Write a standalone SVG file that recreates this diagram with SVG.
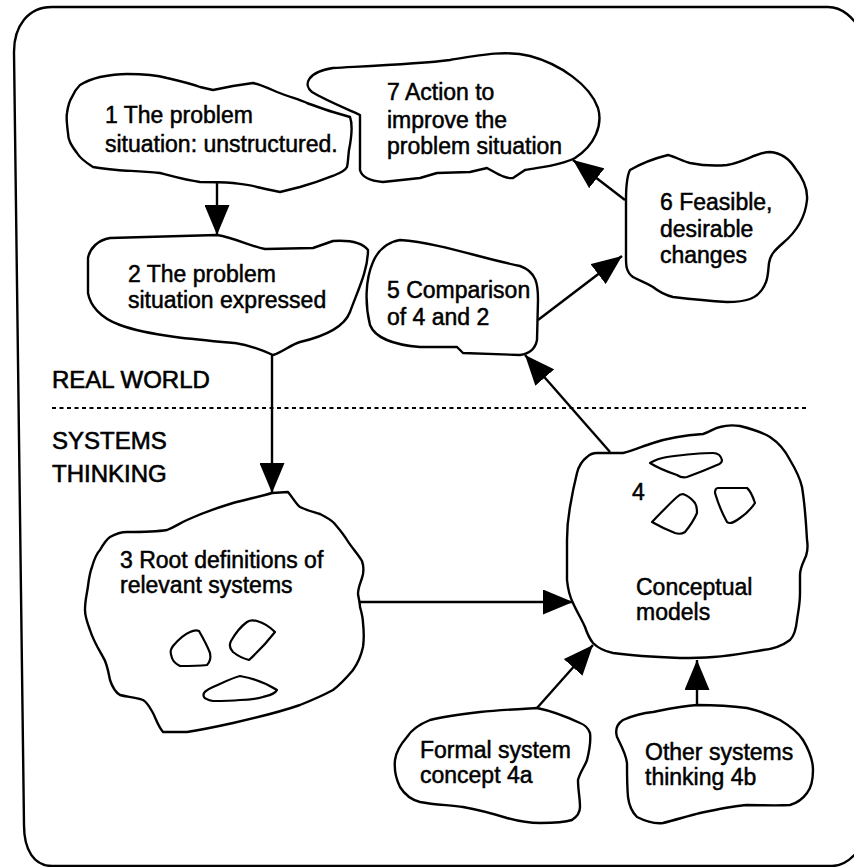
<svg xmlns="http://www.w3.org/2000/svg" width="854" height="867" viewBox="0 0 854 867">
<style>
.frame{fill:none;stroke:#000;stroke-width:2.4}
.blob{fill:#fff;stroke:#000;stroke-width:2.4;stroke-linejoin:round}
.inner{fill:none;stroke:#000;stroke-width:2.2;stroke-linejoin:round}
.t{font-family:"Liberation Sans",Arial,Helvetica,sans-serif;font-size:23px;fill:#000;stroke:#000;stroke-width:0.5}
.lbl{font-family:"Liberation Sans",Arial,Helvetica,sans-serif;font-size:24px;fill:#000;stroke:#000;stroke-width:0.6}
.conn{fill:none;stroke:#000;stroke-width:2.4}
.div{fill:none;stroke:#000;stroke-width:2.2;stroke-dasharray:4 3.5}
</style>
<defs>
<marker id="ah" markerUnits="userSpaceOnUse" markerWidth="30" markerHeight="25" viewBox="0 0 30 25" refX="30" refY="12.5" orient="auto">
<path d="M0,0 L30,12.5 L0,25 Z" fill="#000"/>
</marker>
</defs>
<rect width="854" height="867" fill="#fff"/>
<path class="frame" d="M14,52 C14,26 28,7 52,7 L828,7 C842,7 852,16 866,36 L868,836 C858,854 846,866 832,866 L52,866 C34,866 24,850 24,825 Z"/>

<g id="labels">
<text class="lbl" x="52" y="388">REAL WORLD</text>
<path class="div" d="M52,408 L808,408"/>
<text class="lbl" x="52" y="449">SYSTEMS</text>
<text class="lbl" x="52" y="482">THINKING</text>
</g>

<g id="node1">
<path class="blob" d="M80,85 C88,80 96,78 100,77 C110,75 118,74 127,74 C145,74 160,76 167,78 C180,81 192,84 200,87 L213,90 L233,86 L253,83 C262,85 270,89 277,92 C290,97 300,100 307,103 C318,107 326,110 333,112 L350,117 C353,125 351,140 349,150 C348,158 348,163 347,167 C345,171 340,173 335,175 C325,179 318,182 300,187 L280,192 C270,190 265,189 257,187 C250,185 240,184 233,183 C220,182 210,182 200,182 C185,180 172,176 160,173 C140,171 128,171 117,170 C105,169 98,168 93,167 C85,162 80,158 77,153 C71,145 68,140 68,133 C67,125 66,118 67,113 C68,106 70,100 72,97 C74,92 77,88 80,85 Z"/>
<text class="t" x="105" y="123">1 The problem</text>
<text class="t" x="105" y="152">situation: unstructured.</text>
</g>

<g id="node2">
<path class="blob" d="M110,238 L217,235 C235,238 250,246 265,249 L313,248 L333,241 C350,240 362,242 368,250 C368,270 358,290 350,312 C345,325 330,335 300,342 C290,345 283,352 273,355 C262,350 250,345 235,343 C200,340 150,336 120,325 C100,318 90,305 88,293 L88,258 C90,248 98,240 110,238 Z"/>
<text class="t" x="128" y="282">2 The problem</text>
<text class="t" x="128" y="308">situation expressed</text>
</g>

<g id="node7">
<path class="blob" d="M333,68 C370,66 420,64 450,60 C480,55 505,50 530,56 C560,64 590,85 598,108 C603,125 595,145 575,158 C560,166 540,167 525,170 L513,178 C505,179 498,174 487,168 L470,172 L437,173 L420,178 L383,182 C370,181 362,178 360,170 L360,115 C345,108 325,100 312,92 C303,85 307,72 333,68 Z"/>
<text class="t" x="387" y="100">7 Action to</text>
<text class="t" x="387" y="128">improve the</text>
<text class="t" x="387" y="154">problem situation</text>
</g>

<g id="node6">
<path class="blob" d="M630,170 C642,163 656,158 668,155 C676,157 682,161 690,163 C705,166 716,166 727,165 C745,162 757,152 770,152 C782,153 790,160 795,168 C803,178 808,188 807,200 C805,220 795,233 783,243 C775,250 770,255 769,263 C768,272 768,277 766,282 C763,290 758,296 750,299 C742,302 735,302 727,302 C710,301 690,299 673,297 C665,295 658,291 653,287 C645,282 638,280 633,277 C626,272 626,265 626,258 L626,200 C626,185 627,176 630,170 Z"/>
<text class="t" x="660" y="210">6 Feasible,</text>
<text class="t" x="660" y="237">desirable</text>
<text class="t" x="660" y="263">changes</text>
</g>

<g id="node5">
<path class="blob" d="M400,240 C440,243 480,258 520,266 C537,272 538,285 538,300 L537,340 C535,350 528,354 520,355 L463,353 L457,347 L420,347 C395,345 375,338 370,325 C365,305 365,280 373,262 C378,250 388,242 400,240 Z"/>
<text class="t" x="387" y="298">5 Comparison</text>
<text class="t" x="387" y="325">of 4 and 2</text>
</g>

<g id="node3">
<path class="blob" d="M272,493 L288,492 C293,498 296,504 300,507 C308,511 314,512 320,514 C326,517 330,519 334,523 C340,530 344,535 347,540 C352,548 358,554 362,561 C364,567 364,572 362,578 C360,584 358,588 358,594 C359,600 360,604 360,607 C362,614 363,619 363,623 C364,632 364,640 363,647 C361,656 358,663 353,670 C347,677 342,683 333,690 C320,697 310,701 300,705 C280,712 255,718 233,723 C215,727 200,730 187,732 L163,732 C158,726 156,719 153,713 C149,706 147,702 143,700 C135,697 127,697 120,695 C115,692 112,686 110,680 C108,670 107,663 103,657 C98,648 93,640 90,630 C87,622 85,617 85,610 C85,600 87,594 88,586 C89,578 90,572 92,567 C94,560 97,553 100,550 C104,543 107,539 110,537 C117,533 122,532 127,532 C140,532 155,532 167,530 C175,527 180,523 187,520 C200,514 220,507 233,503 C248,499 262,496 272,493 Z"/>
<path class="inner" d="M172,658 C170,652 170,650 173,646 C178,640 183,635 190,632 C194,630 197,630 199,631 C203,638 207,645 210,653 C211,658 210,662 207,665 C198,666 188,666 180,666 C176,664 173,661 172,658 Z"/>
<path class="inner" d="M233,652 C229,648 229,645 231,641 C235,634 240,627 247,622 C250,620 253,620 257,621 C264,623 270,627 275,632 C268,641 260,650 249,660 C245,659 238,656 233,652 Z"/>
<path class="inner" d="M204,697 C202,693 206,690 213,687 C222,683 232,678 240,676 C252,678 266,683 277,690 C275,694 270,695 263,697 C256,699 248,700 240,700 C230,701 220,701 213,701 C208,700 205,699 204,697 Z"/>
<text class="t" x="120" y="568">3 Root definitions of</text>
<text class="t" x="120" y="593">relevant systems</text>
</g>

<g id="node4">
<path class="blob" d="M597,453 L623,453 C633,451 643,446 653,443 C668,438 688,435 703,434 C710,432 714,428 720,427 C727,425 733,425 740,426 C752,429 762,432 770,437 C779,443 786,452 790,460 C796,470 800,478 802,487 C805,505 806,522 807,540 C808,546 808,550 806,556 C803,563 800,568 800,575 L800,593 C800,605 798,612 797,620 C796,630 794,636 790,640 C782,646 774,649 763,650 C745,653 730,656 713,657 C700,658 690,658 680,658 C655,657 635,656 613,653 C603,651 597,647 593,643 C589,638 587,633 585,627 C582,620 577,612 573,603 C570,597 568,590 567,580 L567,540 C567,528 568,518 570,507 C572,495 574,485 577,473 C579,465 583,460 587,457 C590,454 594,453 597,453 Z"/>
<path class="inner" d="M650,463 C655,460 661,458 667,457 C682,455 698,453 713,453 C718,453 721,456 722,460 C722,463 720,464 717,465 C708,469 698,473 687,477 C683,478 680,477 677,475 C668,472 658,468 650,463 Z"/>
<path class="inner" d="M652,522 C660,514 668,505 677,497 C680,494 682,494 683,494 C688,496 692,499 695,503 C697,506 697,510 697,513 C694,520 690,526 685,532 C682,534 678,534 675,533 C667,530 659,526 652,522 Z"/>
<path class="inner" d="M715,493 C715,490 716,488 718,488 L747,488 C751,491 753,497 755,503 C751,509 746,514 740,518 C736,521 732,523 730,523 C728,523 727,522 727,522 C722,513 718,503 715,493 Z"/>
<text class="t" x="632" y="500">4</text>
<text class="t" x="636" y="595">Conceptual</text>
<text class="t" x="636" y="620">models</text>
</g>

<g id="node4a">
<path class="blob" d="M537,708 C520,709 500,710 480,712 C462,714 445,716 430,720 C420,724 412,729 407,737 C400,745 396,752 395,760 C394,770 396,779 400,787 C405,795 412,800 420,802 C435,805 450,805 463,807 C480,810 494,814 507,818 C518,821 530,823 540,823 C552,823 563,823 572,820 C578,816 580,812 580,807 C580,798 578,790 578,780 C580,772 585,766 587,760 C589,752 591,741 590,733 C588,727 585,725 580,723 C565,716 552,711 537,708 Z"/>
<text class="t" x="420" y="758">Formal system</text>
<text class="t" x="420" y="783">concept 4a</text>
</g>

<g id="node4b">
<path class="blob" d="M697,705 C715,705 732,706 747,708 C760,711 770,715 780,720 C790,726 798,732 803,740 C809,750 813,760 813,770 C813,780 811,788 807,793 C802,800 797,803 790,805 C775,806 760,805 747,805 C732,806 715,810 700,813 C688,816 675,820 663,823 C655,824 645,821 637,817 C632,812 629,805 628,797 C627,786 627,775 627,763 C626,754 621,745 617,737 C615,730 617,724 623,720 C632,716 642,713 653,712 C668,709 682,706 697,705 Z"/>
<text class="t" x="645" y="760">Other systems</text>
<text class="t" x="645" y="785">thinking 4b</text>
</g>

<g id="connectors">
<path class="conn" d="M217,183 L217,235" marker-end="url(#ah)"/>
<path class="conn" d="M272,355 L272,493" marker-end="url(#ah)"/>
<path class="conn" d="M360,602 L573,602" marker-end="url(#ah)"/>
<path class="conn" d="M610,452 L525,355" marker-end="url(#ah)"/>
<path class="conn" d="M538,320 L622,256" marker-end="url(#ah)"/>
<path class="conn" d="M625,200 L573,160" marker-end="url(#ah)"/>
<path class="conn" d="M537,708 L593,645" marker-end="url(#ah)"/>
<path class="conn" d="M697,705 L697,660" marker-end="url(#ah)"/>
</g>
</svg>
